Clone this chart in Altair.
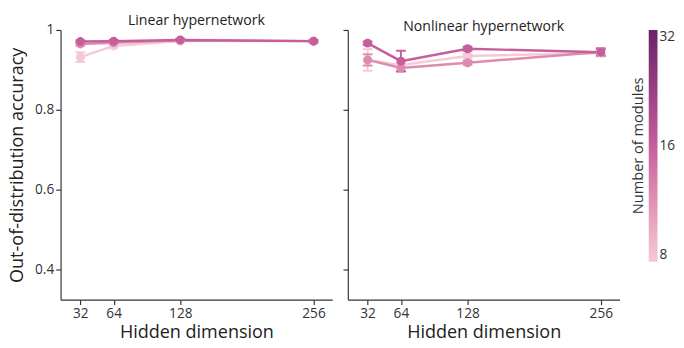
import altair as alt
import pandas as pd

hidden = [32, 64, 128, 256]
modules = [8, 12, 16]

lin_mean = {
    8: [0.932, 0.960, 0.972, 0.972],
    12: [0.965, 0.968, 0.974, 0.972],
    16: [0.971, 0.972, 0.975, 0.972],
}
lin_err = {
    8: [0.012, 0.004, 0.003, 0.003],
    12: [0.004, 0.003, 0.003, 0.003],
    16: [0.003, 0.003, 0.003, 0.003],
}
non_mean = {
    8: [0.925, 0.912, 0.935, 0.942],
    12: [0.925, 0.905, 0.918, 0.945],
    16: [0.967, 0.922, 0.953, 0.944],
}
non_err = {
    8: [0.027, 0.006, 0.005, 0.008],
    12: [0.014, 0.008, 0.005, 0.010],
    16: [0.004, 0.026, 0.005, 0.008],
}

def frame(mean, err):
    rows = []
    for m in modules:
        for i, h in enumerate(hidden):
            rows.append({"hidden": h, "modules": m, "acc": mean[m][i],
                         "lo": mean[m][i] - err[m][i], "hi": mean[m][i] + err[m][i]})
    return pd.DataFrame(rows)

FONT = "Open Sans"
color_scale = alt.Scale(type="log", domain=[8, 16, 32],
                        range=["#f5c9d5", "#c65e9d", "#6a2268"])
xs = alt.Scale(domain=[13, 274], nice=False, zero=False)
ys = alt.Scale(domain=[0.325, 1.0], nice=False, zero=False)

def panel(df, title, show_y):
    base = alt.Chart(df)
    xenc = alt.X("hidden:Q", scale=xs,
                 axis=alt.Axis(values=hidden, title="Hidden dimension", grid=False, titlePadding=3))
    yaxis = alt.Axis(values=[0.4, 0.6, 0.8, 1.0], grid=False, titlePadding=8,
                     title="Out-of-distribution accuracy" if show_y else None,
                     labels=show_y, labelExpr="datum.value == 1 ? '1' : format(datum.value, '.1f')")
    yenc = alt.Y("acc:Q", scale=ys, axis=yaxis)
    col = alt.Color("modules:Q", scale=color_scale,
                    legend=alt.Legend(type="gradient", title="Number of modules", values=[8, 16, 32],
                                      gradientLength=238, gradientThickness=9,
                                      titleOrient="left", titlePadding=2,
                                      titleFontSize=15, titleFontWeight="normal",
                                      labelFontSize=14, titleFont=FONT, labelFont=FONT,
                                      titleColor="#333", labelColor="#333", labelOffset=2,
                                      offset=12, gradientStrokeWidth=0))
    line = base.mark_line(strokeWidth=2.5).encode(x=xenc, y=yenc, color=col,
                                                  order=alt.Order("hidden:Q"), detail="modules:Q")
    pts = base.mark_point(filled=False, shape="circle", size=22, strokeWidth=4.5, opacity=1).encode(
        x=xenc, y=yenc, color=col, order=alt.Order("modules:Q"))
    rule = base.mark_rule(strokeWidth=2).encode(x=xenc, y=alt.Y("lo:Q", scale=ys), y2="hi:Q", color=col)
    tlo = base.mark_point(shape="stroke", filled=False, size=100, strokeWidth=2, opacity=1).encode(
        x=xenc, y=alt.Y("lo:Q", scale=ys), color=col)
    thi = base.mark_point(shape="stroke", filled=False, size=100, strokeWidth=2, opacity=1).encode(
        x=xenc, y=alt.Y("hi:Q", scale=ys), color=col)
    return alt.layer(rule, tlo, thi, line, pts).properties(
        width=279, height=277,
        title=alt.TitleParams(title, fontSize=14.5, font=FONT, fontWeight="normal", color="#222",
                              offset=-5, frame="group"))

left = panel(frame(lin_mean, lin_err), "Linear hypernetwork", True)
right = panel(frame(non_mean, non_err), "Nonlinear hypernetwork", False)

chart = alt.hconcat(left, right, spacing=10).resolve_scale(color="shared").properties(
    padding={"left": 0, "top": 0, "right": 0, "bottom": 0}
).configure_view(stroke=None).configure_axis(
    labelFont=FONT, titleFont=FONT, labelFontSize=14, titleFontSize=18.5,
    titleFontWeight="normal", labelColor="#333", titleColor="#222",
    domainColor="#333", tickColor="#333", domainWidth=1.2, tickWidth=1.2, tickSize=5,
    labelPadding=2, titlePadding=1)

chart.save("out.html", embed_options={"renderer": "svg", "actions": False})
